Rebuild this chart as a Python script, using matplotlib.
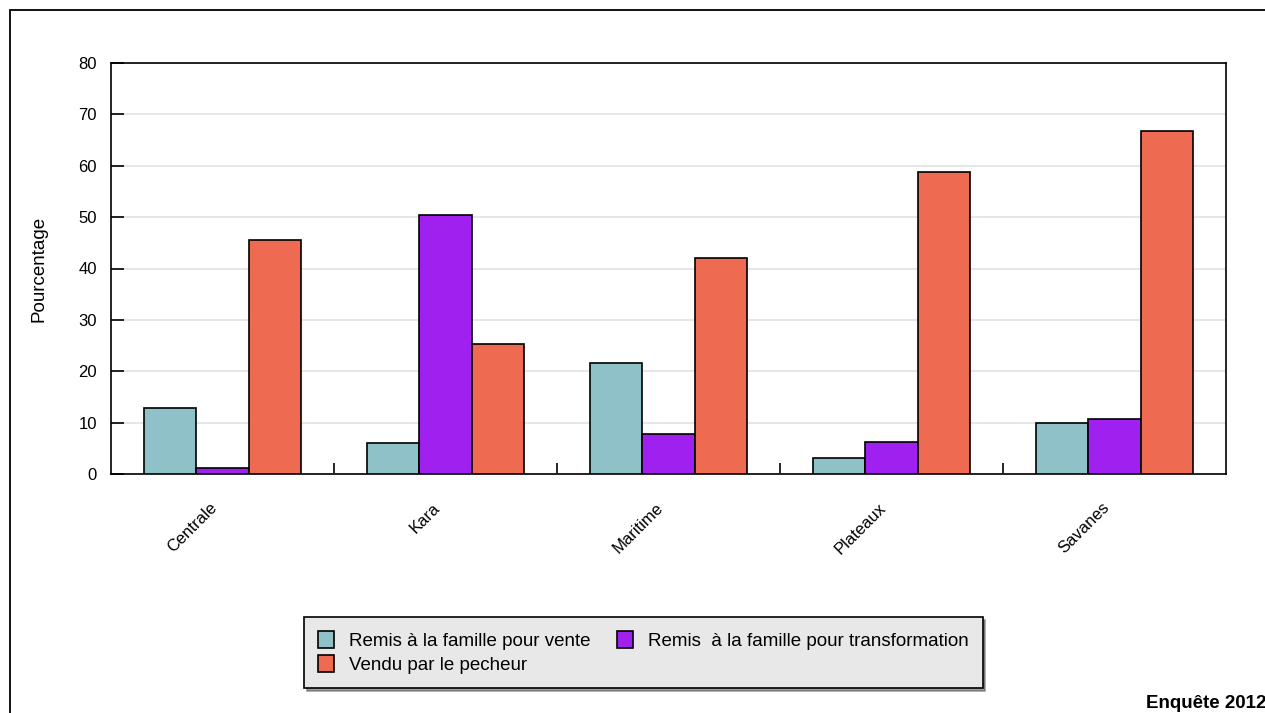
import numpy as np
import matplotlib
matplotlib.use("Agg")
import matplotlib.pyplot as plt
from matplotlib.patches import Rectangle
from matplotlib.transforms import ScaledTranslation

plt.rcParams['font.family'] = ['Liberation Sans', 'DejaVu Sans']

regions = ["Centrale", "Kara", "Maritime", "Plateaux", "Savanes"]
vente = [12.8, 6.0, 21.6, 3.1, 9.9]
transfo = [1.2, 50.4, 7.8, 6.2, 10.8]
vendu = [45.5, 25.3, 42.0, 58.8, 66.7]
series_names = ["Remis à la famille pour vente",
                "Remis  à la famille pour transformation",
                "Vendu par le pecheur"]
colors = ["#8fc1c8", "#a020f0", "#ee6a50"]
y_ticks = [0, 10, 20, 30, 40, 50, 60, 70, 80]

W, H = 1265, 713
fig = plt.figure(figsize=(W / 100, H / 100), dpi=100)
fig.patch.set_facecolor("white")

# outer frame (cut off on right and bottom)
fig.patches.append(Rectangle((10 / W, -0.2), 1.5, (H - 10) / H + 0.2,
                             transform=fig.transFigure, fill=False,
                             edgecolor="black", linewidth=1.3))

ax = fig.add_axes([111 / W, (H - 474) / H, (1226 - 111) / W, (474 - 63) / H])

x = np.arange(len(regions))
bw = 0.235
handles = []
for i, (vals, c) in enumerate(zip([vente, transfo, vendu], colors)):
    b = ax.bar(x + (i - 1) * bw, vals, bw, color=c, edgecolor="black",
               linewidth=1.2, zorder=3, label=series_names[i])
    handles.append(b)

ax.set_xlim(-0.5, len(regions) - 0.5)
ax.set_ylim(0, 80)
ax.set_yticks(y_ticks)
ax.yaxis.grid(True, color="#e2e2e2", linewidth=1.2, zorder=0)
ax.tick_params(axis="y", direction="in", length=9, width=1.2, labelsize=12, pad=10)
ax.set_xticks(x)
ax.set_xticklabels(regions, rotation=45, ha="right", va="center",
                   rotation_mode="anchor", fontsize=12)
ax.tick_params(axis="x", which="major", length=0, pad=24)
shift = ScaledTranslation(-8 / 100, 2 / 100, fig.dpi_scale_trans)
for lab in ax.get_xticklabels():
    lab.set_transform(lab.get_transform() + shift)
ax.set_xticks(x[:-1] + 0.5, minor=True)
ax.tick_params(axis="x", which="minor", direction="in", length=8, width=1.2)
for s in ax.spines.values():
    s.set_linewidth(1.2)
ax.set_ylabel("Pourcentage", fontsize=13.5, labelpad=22)

leg = fig.legend([handles[0], handles[2], handles[1]],
                 [series_names[0], series_names[2], series_names[1]],
                 ncol=2, loc="upper left",
                 bbox_to_anchor=(304 / W, (H - 617) / H),
                 borderaxespad=0, fancybox=False, shadow=True,
                 facecolor="#e8e8e8", edgecolor="black", framealpha=1,
                 fontsize=13.5, handlelength=0.85, handleheight=1.05,
                 handletextpad=0.8, labelspacing=0.25, borderpad=0.75,
                 columnspacing=1.4)
leg.get_frame().set_linewidth(1.2)

fig.text(1146 / W, (H - 708) / H, "Enquête 2012", fontsize=13.5,
         fontweight="bold", ha="left", va="baseline")

fig.savefig("out.png", dpi=100)
